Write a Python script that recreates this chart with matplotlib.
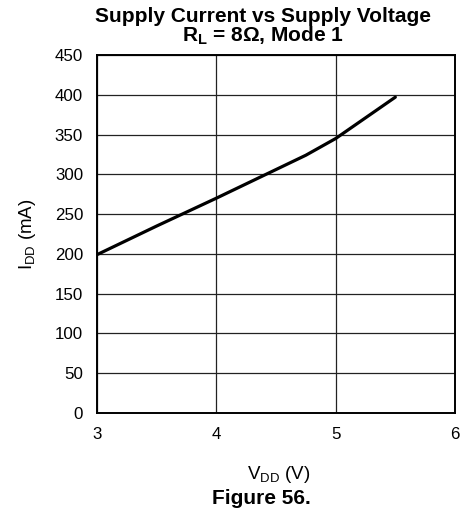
import matplotlib.pyplot as plt

plt.rcParams['font.family'] = ['Liberation Sans', 'DejaVu Sans']

# supply voltage (V) and supply current (mA)
vdd = [3.0, 3.5, 4.0, 4.5, 4.75, 5.0, 5.25, 5.5]
idd = [199, 235, 270, 306, 324, 345, 371, 397]

xticks = [3, 4, 5, 6]
yticks = list(range(0, 451, 50))

fig = plt.figure(figsize=(4.61, 5.12), dpi=100)
ax = fig.add_axes([0.2104, 0.1934, 0.7766, 0.6992])

ax.plot(vdd, idd, color='black', linewidth=2.3, solid_capstyle='round', zorder=3)

ax.set_xlim(3, 6)
ax.set_ylim(0, 450)
ax.set_xticks(xticks)
ax.set_yticks(yticks)
ax.grid(True, color='#222222', linewidth=0.9)
ax.tick_params(length=0, labelsize=12.2, pad=10)
for sp in ax.spines.values():
    sp.set_linewidth(1.4)

ax.set_ylabel('I$_{\\mathregular{DD}}$ (mA)', fontsize=13.5, labelpad=12)
fig.text(0.605, 0.0645, 'V$_{\\mathregular{DD}}$ (V)', ha='center', va='baseline', fontsize=13.5)
fig.text(0.568, 0.0156, 'Figure 56.', ha='center', va='baseline', fontsize=15, fontweight='bold')
fig.text(0.57, 0.92, 'Supply Current vs Supply Voltage\nR$_{\\mathregular{L}}$ = 8Ω, Mode 1',
         ha='center', va='baseline', multialignment='center', linespacing=0.88,
         fontsize=15, fontweight='bold')

fig.savefig('out.png', dpi=100)
